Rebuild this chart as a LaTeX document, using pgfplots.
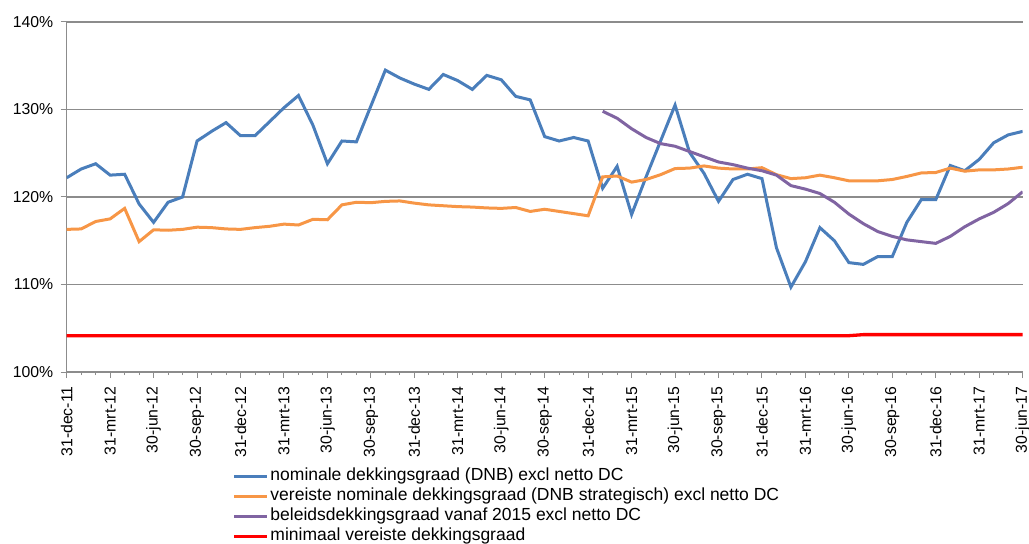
\documentclass[border=0pt]{standalone}
\usepackage{pgfplots}
\pgfplotsset{compat=1.18}
\usepackage{fontspec}
\setmainfont{Liberation Sans}
\definecolor{cblue}{HTML}{4A7EBB}
\definecolor{corange}{HTML}{F79646}
\definecolor{cpurple}{HTML}{8064A2}
\definecolor{cgrid}{HTML}{8C8C8C}
\begin{document}
\begin{tikzpicture}
\begin{axis}[
  at={(0,0)}, anchor=south west,
  scale only axis, width=956bp, height=350bp,
  xmin=0, xmax=66, ymin=100, ymax=140,
  axis x line*=bottom, axis y line*=left,
  axis line style={cgrid, line width=1.3bp},
  xtick={0,3,...,66},
  minor xtick={0,...,66},
  xticklabels={31-dec-11,31-mrt-12,30-jun-12,30-sep-12,31-dec-12,31-mrt-13,30-jun-13,30-sep-13,31-dec-13,31-mrt-14,30-jun-14,30-sep-14,31-dec-14,31-mrt-15,30-jun-15,30-sep-15,31-dec-15,31-mrt-16,30-jun-16,30-sep-16,31-dec-16,31-mrt-17,30-jun-17},
  xticklabel style={rotate=90, anchor=east, font=\fontsize{15.8bp}{18bp}\selectfont},
  xticklabel shift=5bp,
  ytick={100,110,120,130,140},
  yticklabels={100\%,110\%,120\%,130\%,140\%},
  yticklabel style={font=\fontsize{15.8bp}{18bp}\selectfont},
  yticklabel shift=4bp,
  tick align=outside,
  major tick length=6bp, minor tick length=3bp,
  tick style={cgrid, line width=1bp},
  ymajorgrids, grid style={cgrid, line width=1.2bp},
  legend cell align=left,
  legend image code/.code={\draw[#1] (0bp,0bp) -- (33bp,0bp);},
  legend style={at={(0.1734,-0.269)}, anchor=north west, draw=none, fill=none,
    inner sep=0pt, row sep=0bp,
    font=\fontsize{17.5bp}{20bp}\selectfont,
    nodes={inner sep=1.5bp, text height=13bp, text depth=4bp}},
]
\addplot[cblue, line width=3bp] coordinates {
(0,122.2)(1,123.2)(2,123.8)(3,122.5)(4,122.6)(5,119.2)(6,117.1)(7,119.4)(8,120.0)(9,126.4)
(10,127.5)(11,128.5)(12,127.0)(13,127.0)(14,128.6)(15,130.2)(16,131.6)(17,128.2)(18,123.8)(19,126.4)
(20,126.3)(21,130.4)(22,134.5)(23,133.6)(24,132.9)(25,132.3)(26,134.0)(27,133.3)(28,132.3)(29,133.9)
(30,133.4)(31,131.5)(32,131.1)(33,126.9)(34,126.4)(35,126.8)(36,126.4)(37,121.0)(38,123.5)(39,118.0)
(40,122.3)(41,126.4)(42,130.5)(43,125.1)(44,122.7)(45,119.5)(46,122.0)(47,122.6)(48,122.1)(49,114.2)
(50,109.7)(51,112.6)(52,116.5)(53,115.0)(54,112.5)(55,112.3)(56,113.2)(57,113.2)(58,117.1)(59,119.7)
(60,119.7)(61,123.6)(62,123.0)(63,124.3)(64,126.2)(65,127.1)(66,127.5)};
\addlegendentry{nominale dekkingsgraad (DNB) excl netto DC}
\addplot[corange, line width=3bp] coordinates {
(0,116.3)(1,116.35)(2,117.2)(3,117.5)(4,118.7)(5,114.9)(6,116.25)(7,116.2)(8,116.3)(9,116.55)
(10,116.5)(11,116.35)(12,116.3)(13,116.5)(14,116.65)(15,116.9)(16,116.8)(17,117.45)(18,117.4)(19,119.1)
(20,119.4)(21,119.35)(22,119.5)(23,119.55)(24,119.3)(25,119.1)(26,119.0)(27,118.9)(28,118.85)(29,118.75)
(30,118.7)(31,118.8)(32,118.35)(33,118.6)(34,118.35)(35,118.1)(36,117.85)(37,122.3)(38,122.4)(39,121.7)
(40,122.0)(41,122.55)(42,123.25)(43,123.3)(44,123.55)(45,123.3)(46,123.2)(47,123.2)(48,123.35)(49,122.55)
(50,122.1)(51,122.2)(52,122.5)(53,122.2)(54,121.85)(55,121.85)(56,121.85)(57,122.0)(58,122.35)(59,122.75)
(60,122.8)(61,123.3)(62,122.95)(63,123.1)(64,123.1)(65,123.2)(66,123.4)};
\addlegendentry{vereiste nominale dekkingsgraad (DNB strategisch) excl netto DC}
\addplot[cpurple, line width=3bp] coordinates {
(37,129.8)(38,129.0)(39,127.8)(40,126.8)(41,126.1)(42,125.8)(43,125.2)(44,124.6)(45,124.0)(46,123.7)
(47,123.3)(48,123.0)(49,122.5)(50,121.3)(51,120.9)(52,120.4)(53,119.4)(54,118.05)(55,116.95)(56,116.05)
(57,115.5)(58,115.1)(59,114.9)(60,114.7)(61,115.5)(62,116.6)(63,117.5)(64,118.25)(65,119.25)(66,120.6)};
\addlegendentry{beleidsdekkingsgraad vanaf 2015 excl netto DC}
\addplot[red, line width=3.3bp] coordinates {
(0,104.15)(54,104.15)(55,104.27)(66,104.27)};
\addlegendentry{minimaal vereiste dekkingsgraad}
\end{axis}
\pgfresetboundingbox
\path[use as bounding box] (-66.7bp,-172bp) rectangle (962.3bp,372bp);
\end{tikzpicture}
\end{document}
